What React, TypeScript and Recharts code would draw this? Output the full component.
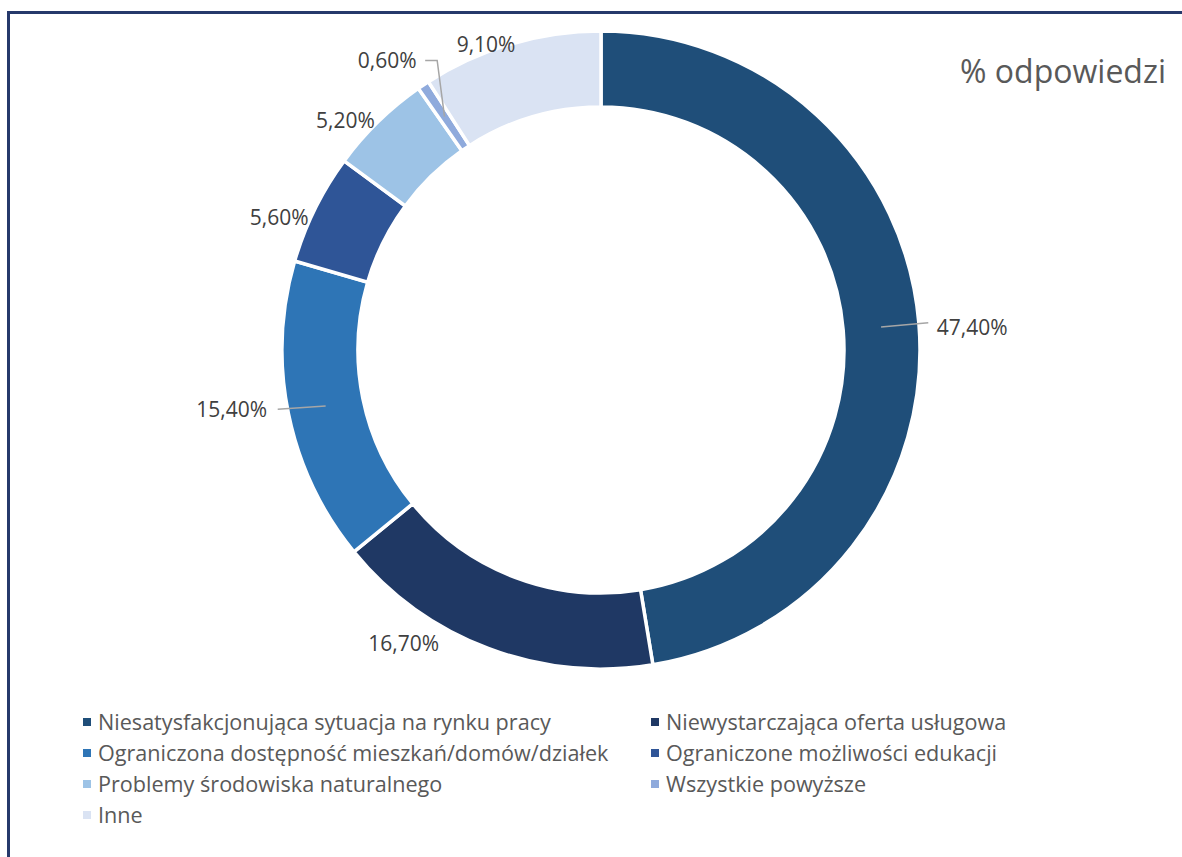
import React from "react";
import { Legend, Pie, PieChart } from "recharts";

const categories = [
  "Niesatysfakcjonująca sytuacja na rynku pracy",
  "Niewystarczająca oferta usługowa",
  "Ograniczona dostępność mieszkań/domów/działek",
  "Ograniczone możliwości edukacji",
  "Problemy środowiska naturalnego",
  "Wszystkie powyższe",
  "Inne",
];
const shares = [47.4, 16.7, 15.4, 5.6, 5.2, 0.6, 9.1];
const colors = ["#1F4E79", "#1F3864", "#2E75B6", "#2F5597", "#9DC3E6", "#8FAADC", "#DAE3F3"];

// hand placement of the labels, like in the original (angle offset from slice middle, radius, leader)
const labelPlace: { dAngle: number; r: number; line: "none" | "straight" | "elbow" }[] = [
  { dAngle: -1.1, r: 372, line: "straight" },
  { dAngle: -13.3, r: 353, line: "none" },
  { dAngle: -2.4, r: 374, line: "straight" },
  { dAngle: 3.9, r: 348, line: "none" },
  { dAngle: 3.7, r: 344, line: "none" },
  { dAngle: 2.6, r: 360, line: "elbow" },
  { dAngle: 4.2, r: 327, line: "none" },
];

const FONT = "'Open Sans', 'DejaVu Sans', sans-serif";
const RAD = Math.PI / 180;
const polar = (cx: number, cy: number, r: number, a: number) => ({
  x: cx + r * Math.cos(-a * RAD),
  y: cy + r * Math.sin(-a * RAD),
});

const data = categories.map((name, i) => ({ name, value: shares[i], fill: colors[i] }));

const fmt = (v: number) => v.toFixed(2).replace(".", ",") + "%";

function SliceLabel(props: any) {
  const { cx, cy, midAngle, innerRadius, outerRadius, index, value } = props;
  const place = labelPlace[index];
  const t = polar(cx, cy, place.r, midAngle + place.dAngle);
  const start = polar(cx, cy, (innerRadius + outerRadius) / 2, midAngle);
  const text = fmt(value);
  const halfW = text.length * 6;
  const right = t.x > cx;
  let line = null;
  if (place.line === "straight") {
    const ex = right ? t.x - halfW - 8 : t.x + halfW + 10;
    line = (
      <line x1={start.x} y1={start.y} x2={ex} y2={right ? t.y - 4 : t.y} stroke="#A6A6A6" strokeWidth={1.5} />
    );
  } else if (place.line === "elbow") {
    const ex = t.x + halfW + 8;
    line = (
      <polyline
        points={`${ex},${t.y} ${ex + 12},${t.y} ${start.x},${start.y}`}
        fill="none"
        stroke="#A6A6A6"
        strokeWidth={1.5}
      />
    );
  }
  return (
    <g>
      {line}
      <text
        x={t.x}
        y={t.y}
        textAnchor="middle"
        dominantBaseline="central"
        fill="#404040"
        fontSize={21}
        fontFamily={FONT}
      >
        {text}
      </text>
    </g>
  );
}

function LegendGrid() {
  return (
    <div
      style={{
        display: "grid",
        gridTemplateColumns: "568px 500px",
        rowGap: 0,
        fontFamily: FONT,
        fontSize: 21.6,
        color: "#595959",
      }}
    >
      {data.map((d) => (
        <div key={d.name} style={{ display: "flex", alignItems: "center", height: 31 }}>
          <span style={{ width: 8, height: 8, background: d.fill, marginRight: 7, flex: "none" }} />
          <span style={{ whiteSpace: "nowrap" }}>{d.name}</span>
        </div>
      ))}
    </div>
  );
}

export default function App() {
  return (
    <div
      style={{
        position: "absolute",
        left: 0,
        top: 0,
        width: 1182,
        height: 857,
        background: "#fff",
        overflow: "hidden",
      }}
    >
      <div
        style={{
          position: "absolute",
          left: 7,
          top: 11,
          width: 1200,
          height: 900,
          borderTop: "3px solid #26396B",
          borderLeft: "3px solid #26396B",
        }}
      />
      <PieChart
        width={1182}
        height={857}
        margin={{ top: 0, right: 0, bottom: 0, left: 0 }}
        style={{ position: "absolute", left: 0, top: 0 }}
      >
        <Pie
          data={data}
          dataKey="value"
          nameKey="name"
          cx={601}
          cy={350}
          innerRadius={243}
          outerRadius={319}
          startAngle={90}
          endAngle={-270}
          stroke="#FFFFFF"
          strokeWidth={3.5}
          label={SliceLabel}
          labelLine={false}
          isAnimationActive={false}
        />
        <Legend
          content={() => <LegendGrid />}
          wrapperStyle={{ position: "absolute", left: 83, top: 706, width: 1080 }}
        />
      </PieChart>
      <div
        style={{
          position: "absolute",
          right: 16,
          top: 49,
          fontFamily: FONT,
          fontSize: 32,
          color: "#595959",
          whiteSpace: "nowrap",
        }}
      >
        % odpowiedzi
      </div>
    </div>
  );
}
